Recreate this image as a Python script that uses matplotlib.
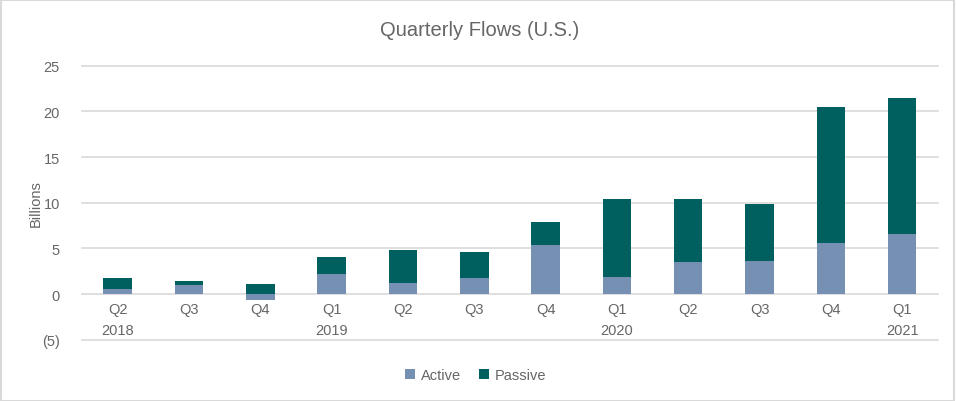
import matplotlib
matplotlib.use("Agg")
import matplotlib.pyplot as plt
from matplotlib.patches import Rectangle
from matplotlib.ticker import FuncFormatter
import numpy as np

# data (billions USD)
quarters = ["Q2\n2018", "Q3", "Q4", "Q1\n2019", "Q2", "Q3",
            "Q4", "Q1\n2020", "Q2", "Q3", "Q4", "Q1\n2021"]
active = [0.55, 0.99, -0.65, 2.15, 1.24, 1.72, 5.37, 1.86, 3.47, 3.61, 5.55, 6.57]
passive = [1.17, 0.40, 1.10, 1.94, 3.58, 2.91, 2.55, 8.58, 6.97, 6.21, 14.93, 14.93]

active_color = "#7590b3"
passive_color = "#005f5f"
text_color = "#666666"

plt.rcParams["font.family"] = ["Liberation Sans", "DejaVu Sans"]

fig = plt.figure(figsize=(9.56, 4.02), dpi=100)
ax = fig.add_axes([0.0858, 0.1525, 0.8952, 0.6815])

x = np.arange(len(quarters))
act = np.array(active)
pas = np.array(passive)
# Excel-style stacking: positives stack from zero, negatives below zero
pas_bottom = np.where(act > 0, act, 0)

ax.bar(x, act, width=0.4, color=active_color, label="Active", zorder=3)
ax.bar(x, pas, width=0.4, bottom=pas_bottom, color=passive_color,
       label="Passive", zorder=3)

ax.set_xlim(-0.5, len(quarters) - 0.5)
ax.set_ylim(-5, 25)
ax.set_yticks(range(-5, 26, 5))
ax.yaxis.set_major_formatter(FuncFormatter(
    lambda v, p: f"({abs(int(v))})" if v < 0 else f"{int(v)}"))
for yv in range(-5, 26, 5):
    ax.axhline(yv, color="#d9d9d9", linewidth=1.2, zorder=0, clip_on=False)

ax.tick_params(axis="y", labelsize=10.5, colors=text_color, length=0, pad=16)
ax.set_xticks([])
for xi, q in zip(x, quarters):
    ax.text(xi, -0.9, q, ha="center", va="top", fontsize=10.5,
            color=text_color, linespacing=1.6)

for s in ax.spines.values():
    s.set_visible(False)

ax.set_ylabel("Billions", fontsize=10.5, color=text_color)
ax.yaxis.set_label_coords(-0.046, 0.5)
fig.text(0.502, 0.925, "Quarterly Flows (U.S.)", ha="center", va="center",
         fontsize=14.5, color=text_color)

ax.legend(loc="center", bbox_to_anchor=(0.46, -0.13), ncol=2,
          frameon=False, fontsize=10.5, labelcolor=text_color,
          handlelength=0.7, handleheight=0.7, handletextpad=0.4,
          columnspacing=1.2)

fig.patches.append(Rectangle((0.001, 0.001), 0.997, 0.996, transform=fig.transFigure,
                             fill=False, edgecolor="#d9d9d9", linewidth=1.5))

fig.savefig("out.png", dpi=100)
